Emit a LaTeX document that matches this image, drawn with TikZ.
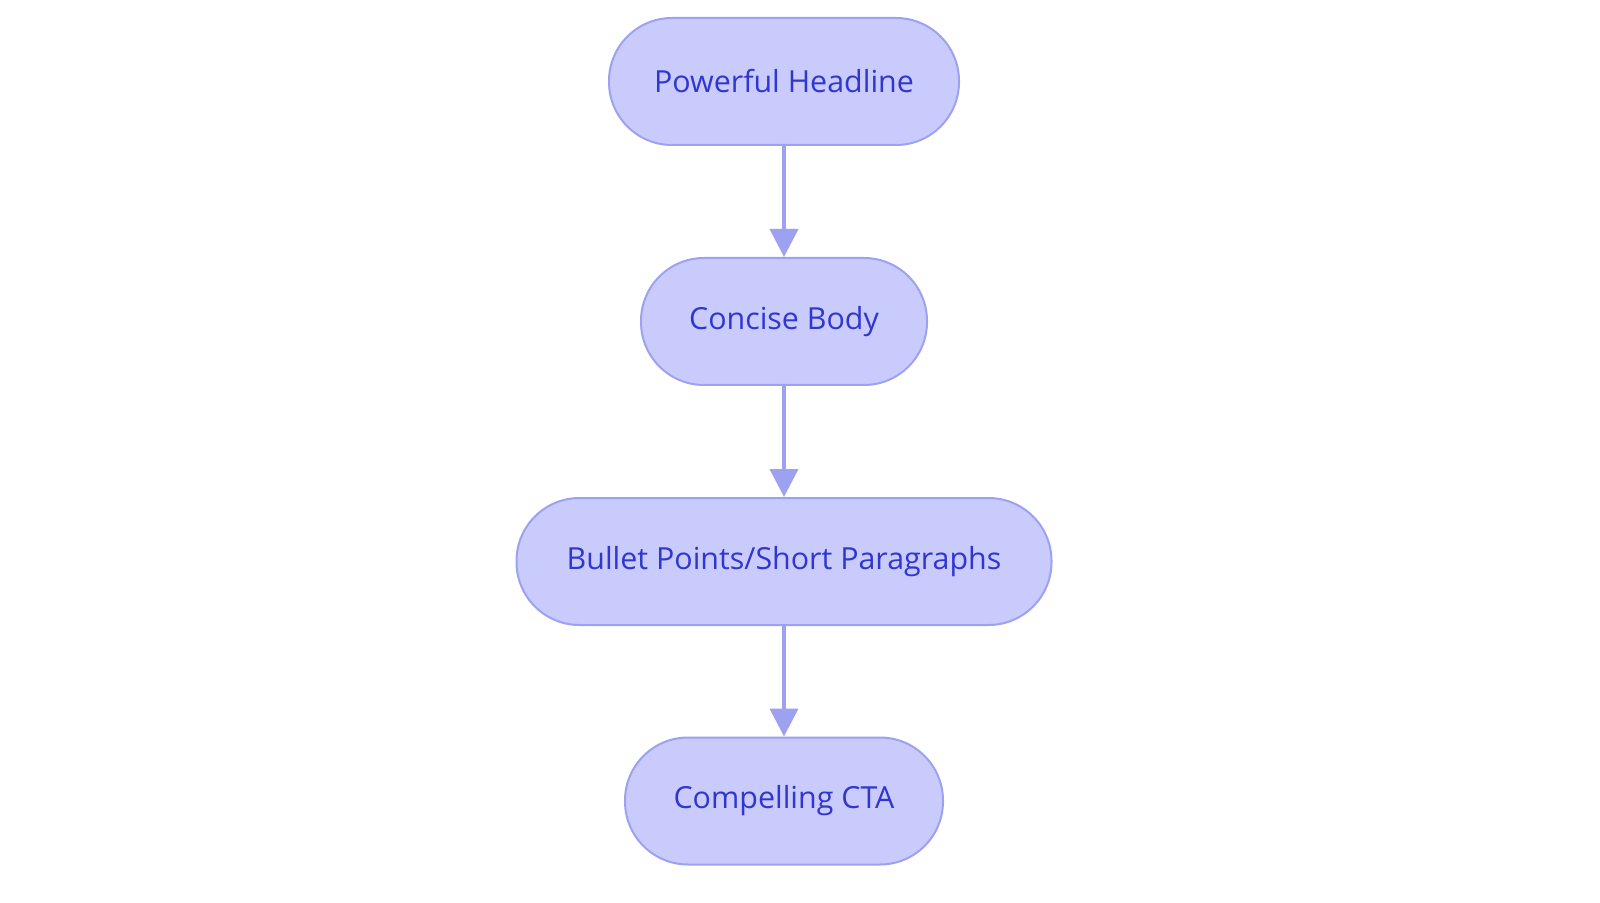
\documentclass[tikz,border=0pt]{standalone}
\usepackage{fontspec}
\setmainfont{Open Sans}
\usetikzlibrary{arrows.meta}
\definecolor{nfill}{HTML}{C9CBFD}
\definecolor{nstroke}{HTML}{9DA1F2}
\definecolor{ntext}{HTML}{3136CF}
\definecolor{arr}{HTML}{9DA1F0}
\begin{document}
\begin{tikzpicture}[x=0.5pt,y=-0.5pt,
  stage/.style={draw=nstroke,fill=nfill,line width=1pt,rounded corners=31.5pt,
    minimum height=63.5pt,inner sep=0pt,text=ntext,font=\fontsize{15.2pt}{18pt}\selectfont},
  flow/.style={draw=arr,line width=2pt,-{Triangle[width=14pt,length=14pt]}}]
\useasboundingbox (0,0) rectangle (1600,903);
\node[stage,minimum width=175pt] (a) at (784,81.5) {Powerful Headline};
\node[stage,minimum width=143pt] (b) at (784,321.5) {Concise Body};
\node[stage,minimum width=267.5pt] (c) at (784,561.5) {Bullet Points/Short Paragraphs};
\node[stage,minimum width=159pt] (d) at (784,801) {Compelling CTA};
\draw[flow] (a) -- (b);
\draw[flow] (b) -- (c);
\draw[flow] (c) -- (d);
\end{tikzpicture}
\end{document}
